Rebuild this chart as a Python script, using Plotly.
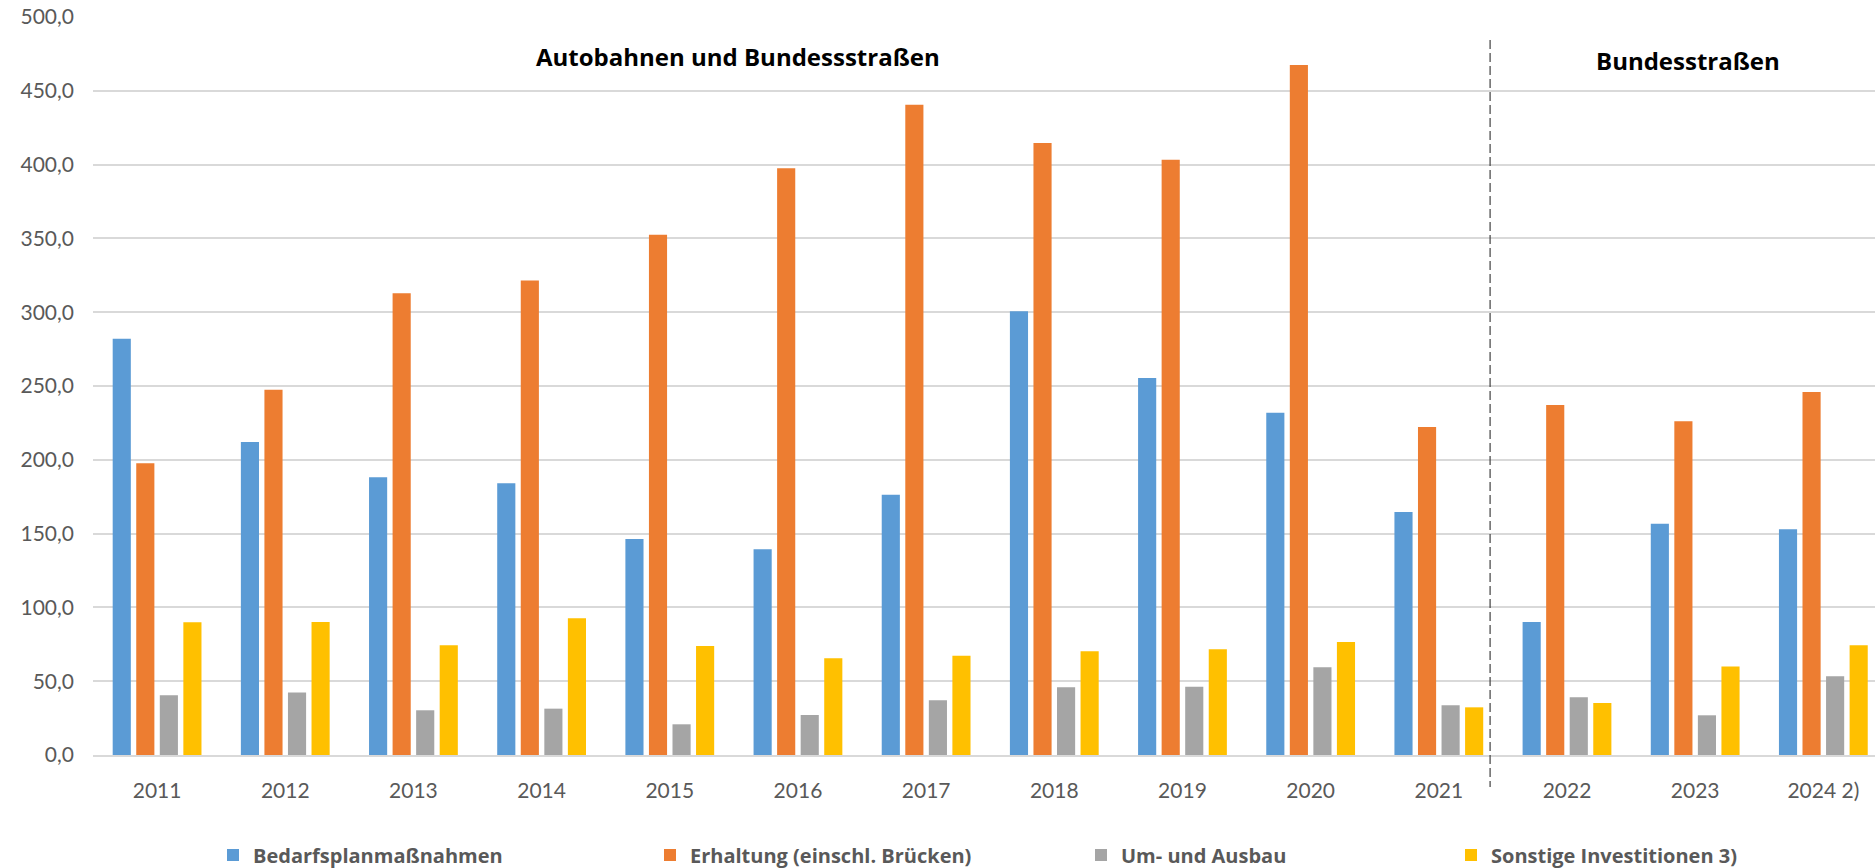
import plotly.graph_objects as go

years = ["2011", "2012", "2013", "2014", "2015", "2016", "2017", "2018", "2019", "2020", "2021", "2022", "2023", "2024 2)"]
bedarf = [282.0, 212.1, 188.2, 184.1, 146.4, 139.4, 176.4, 300.7, 255.5, 231.8, 164.7, 90.1, 156.6, 153.0]
erhaltung = [197.7, 247.4, 312.9, 321.5, 352.4, 397.6, 440.6, 414.6, 403.3, 467.4, 222.3, 237.2, 226.1, 246.0]
umausbau = [40.4, 42.4, 30.3, 31.4, 20.8, 27.1, 37.1, 45.9, 46.3, 59.4, 33.7, 39.1, 26.9, 53.3]
sonstige = [89.9, 90.1, 74.3, 92.6, 73.9, 65.5, 67.3, 70.3, 71.6, 76.6, 32.3, 35.2, 59.9, 74.3]

series = [
    ("Bedarfsplanmaßnahmen", bedarf, "#5b9bd5", "legend", 213),
    ("Erhaltung (einschl. Brücken)", erhaltung, "#ed7d31", "legend2", 650),
    ("Um- und Ausbau", umausbau, "#a5a5a5", "legend3", 1081),
    ("Sonstige Investitionen 3)", sonstige, "#ffc000", "legend4", 1451),
]

W, H = 1875, 868
L, R, T, B = 93, 0, 17, 113
PW, PH = W - L - R, H - T - B
FONT = "Lato"
BOLD = "Open Sans"


def px_x(px):
    return (px - L) / PW


def px_y(py):
    return (H - B - py) / PH


fig = go.Figure()
legends = {}
for name, vals, col, lg, lx in series:
    fig.add_trace(go.Bar(x=years, y=vals, name=name, marker=dict(color=col, line=dict(width=0)),
                         legend=lg))
    legends[lg] = dict(orientation="h", xref="container", yref="container",
                       x=lx / W, y=1 - 855 / H, xanchor="left", yanchor="middle",
                       font=dict(family=BOLD, size=20, color="#595959", weight="bold"),
                       bgcolor="rgba(0,0,0,0)", borderwidth=0, itemwidth=30)

fig.update_layout(
    width=W, height=H,
    margin=dict(l=L, r=R, t=T, b=B, autoexpand=False),
    paper_bgcolor="white", plot_bgcolor="white",
    separators=",.",
    barmode="group", bargap=0.265, bargroupgap=0.23,
    font=dict(family=FONT, color="#595959"),
    xaxis=dict(range=[-0.5, 13.403], showgrid=False, showline=True, linecolor="#d9d9d9", linewidth=2,
               ticks="", tickfont=dict(family=FONT, size=21, color="#595959"),
               ticklabelstandoff=16),
    yaxis=dict(range=[0, 500], dtick=50, tickformat=".1f", showgrid=True, gridcolor="#d9d9d9",
               gridwidth=1.5, zeroline=False, showline=False, ticks="",
               tickfont=dict(family=FONT, size=21, color="#595959"), ticklabelstandoff=18),
    showlegend=True,
    **legends,
)

fig.add_annotation(text="Autobahnen und Bundessstraßen", xref="paper", yref="paper",
                   x=px_x(738), y=px_y(57), showarrow=False,
                   font=dict(family=BOLD, size=24, color="black", weight="bold"),
                   xanchor="center", yanchor="middle")
fig.add_annotation(text="Bundesstraßen", xref="paper", yref="paper",
                   x=px_x(1688), y=px_y(60), showarrow=False,
                   font=dict(family=BOLD, size=24, color="black", weight="bold"),
                   xanchor="center", yanchor="middle")

fig.add_shape(type="line", xref="x", yref="paper", x0=10.4, x1=10.4,
              y0=px_y(40), y1=px_y(787),
              line=dict(color="#404040", width=1.2, dash="9px,4px"))

fig.write_html("out.html")
